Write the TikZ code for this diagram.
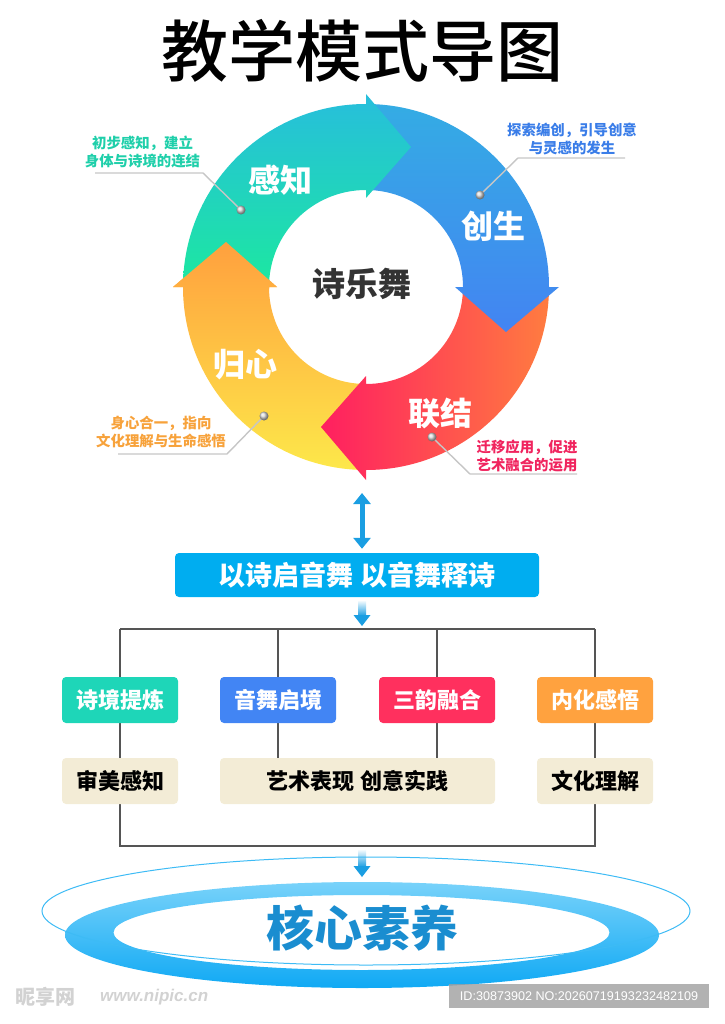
\documentclass[tikz,border=0pt]{standalone}
\usepackage{fontspec}
\setmainfont{Noto Sans CJK SC}
\newfontfamily\titlefont{Noto Sans CJK SC}[UprightFont=* Medium]
\newfontfamily\idfont{Liberation Sans}
\usetikzlibrary{arrows.meta,backgrounds}

\definecolor{cyantop}{HTML}{27BEDC}
\definecolor{cyanbot}{HTML}{1CE8A0}
\definecolor{bluetop}{HTML}{34ACE4}
\definecolor{bluebot}{HTML}{4384F2}
\definecolor{redleft}{HTML}{FF1F60}
\definecolor{redright}{HTML}{FF7C40}
\definecolor{orangetop}{HTML}{FFA03E}
\definecolor{orangebot}{HTML}{FDE84A}
\definecolor{darktext}{HTML}{333333}
\definecolor{arrowblue}{HTML}{1A9EE2}
\definecolor{mainblue}{HTML}{00ADF0}
\definecolor{boxteal}{HTML}{1ED6B8}
\definecolor{boxblue}{HTML}{4285F4}
\definecolor{boxred}{HTML}{FF305E}
\definecolor{boxorange}{HTML}{FFA23F}
\definecolor{beige}{HTML}{F3ECD6}
\definecolor{framegray}{HTML}{555555}
\definecolor{ringtop}{HTML}{78D2FA}
\definecolor{ringbot}{HTML}{10A9F4}
\definecolor{thinblue}{HTML}{3DBBF5}
\definecolor{coretext}{HTML}{1A8DD0}
\definecolor{txtteal}{HTML}{1FCFAA}
\definecolor{txtblue}{HTML}{3A7DE8}
\definecolor{txtorange}{HTML}{F7A23B}
\definecolor{txtred}{HTML}{F0245E}

\tikzset{
  ringlabel/.style={text=white, inner sep=0pt, font=\bfseries\fontsize{32pt}{32pt}\selectfont},
  callout/.style={align=center, inner sep=0pt, font=\bfseries\fontsize{14.4pt}{18pt}\selectfont},
  leader/.style={draw=gray!45, line width=1.4pt},
  dot/.style={circle, inner sep=0pt, minimum size=9pt, shade, ball color=gray!30},
  topbox/.style={rounded corners=4pt, minimum width=116pt, minimum height=46pt, inner sep=0pt,
    text=white, font=\bfseries\fontsize{22pt}{22pt}\selectfont},
  subbox/.style={rounded corners=4pt, fill=beige, minimum width=116pt, minimum height=46pt, inner sep=0pt,
    text=black, font=\bfseries\fontsize{22pt}{22pt}\selectfont},
  frame/.style={draw=framegray, line width=1.3pt},
}

\begin{document}
\begin{tikzpicture}[x=1pt,y=1pt]
\useasboundingbox (0,0) rectangle (724,-1024);

\node[inner sep=0pt, font=\titlefont\fontsize{67pt}{67pt}\selectfont] (title) at (362,-51) {教学模式导图};

% ring of four arrows
\begin{scope}[shift={(366,-287)}]
  \shade[top color=orangetop, bottom color=orangebot] (-90:97pt) -- (-90:183pt) arc[start angle=-90, end angle=-180, radius=183pt]
    -- (180:193pt) -- (-140pt,45pt) -- (180:89pt) -- (180:97pt) arc[start angle=180, end angle=270, radius=97pt] -- cycle;
  \shade[left color=redleft, right color=redright] (0:97pt) -- (0:183pt) arc[start angle=0, end angle=-90, radius=183pt]
    -- (-90:193pt) -- (-45pt,-140pt) -- (-90:89pt) -- (-90:97pt) arc[start angle=-90, end angle=0, radius=97pt] -- cycle;
  \shade[top color=bluetop, bottom color=bluebot] (90:97pt) -- (90:183pt) arc[start angle=90, end angle=0, radius=183pt]
    -- (0:193pt) -- (140pt,-45pt) -- (0:89pt) -- (0:97pt) arc[start angle=0, end angle=90, radius=97pt] -- cycle;
  \shade[top color=cyantop, bottom color=cyanbot] (180:97pt) -- (180:183pt) arc[start angle=180, end angle=90, radius=183pt]
    -- (90:193pt) -- (45pt,140pt) -- (90:89pt) -- (90:97pt) arc[start angle=90, end angle=180, radius=97pt] -- cycle;
  % orange head once more, over the cyan part
  \begin{scope}
    \clip (-200pt,-1pt) rectangle (-80pt,50pt);
    \shade[top color=orangetop, bottom color=orangebot] (-90:97pt) -- (-90:183pt) arc[start angle=-90, end angle=-180, radius=183pt]
      -- (180:193pt) -- (-140pt,45pt) -- (180:89pt) -- (180:97pt) arc[start angle=180, end angle=270, radius=97pt] -- cycle;
  \end{scope}
\end{scope}

\node[ringlabel] (ganzhi) at (280,-180) {感知};
\node[ringlabel] (chuangsheng) at (493,-226) {创生};
\node[ringlabel] (lianjie) at (440,-413) {联结};
\node[ringlabel] (guixin) at (245,-365) {归心};
\node[inner sep=0pt, text=darktext, font=\bfseries\fontsize{33pt}{33pt}\selectfont] (core) at (362,-284) {诗乐舞};

% callouts
\node[callout, text=txtteal] (c1) at (142.5,-152) {初步感知，建立\\身体与诗境的连结};
\node[callout, text=txtblue] (c2) at (572,-138.5) {探索编创，引导创意\\与灵感的发生};
\node[callout, text=txtorange] (c3) at (161,-432) {身心合一，指向\\文化理解与生命感悟};
\node[callout, text=txtred] (c4) at (527,-456) {迁移应用，促进\\艺术融合的运用};

\coordinate (k1) at (203,-173); \coordinate (e1) at (95,-173);
\coordinate (k2) at (518,-158); \coordinate (e2) at (625,-158);
\coordinate (k3) at (227,-454); \coordinate (e3) at (118,-454);
\coordinate (k4) at (470,-474); \coordinate (e4) at (577,-474);
\draw[leader] (e1) -- (k1) -- (241,-210) node[dot] (d1) {};
\draw[leader] (e2) -- (k2) -- (480,-195) node[dot] (d2) {};
\draw[leader] (e3) -- (k3) -- (264,-416) node[dot] (d3) {};
\draw[leader] (e4) -- (k4) -- (432,-437) node[dot] (d4) {};

% middle box and arrows
\node[fill=mainblue, rounded corners=4pt, minimum width=364pt, minimum height=44pt, inner sep=0pt,
  text=white, font=\bfseries\fontsize{27pt}{27pt}\selectfont] (mainbox) at (357,-575) {以诗启音舞 以音舞释诗};
\coordinate (ringbottom) at (362,-493);
\draw[arrowblue, line width=5pt, {Triangle[width=17pt,length=11pt]}-{Triangle[width=17pt,length=11pt]}, shorten >=4pt]
  (ringbottom) -- (ringbottom |- mainbox.north);

\shade[top color=white, bottom color=arrowblue] (358,-600) rectangle (366,-616);
\fill[arrowblue] (353.5,-615) -- (370.5,-615) -- (362,-626) -- cycle;

% tree
\node[topbox, fill=boxteal] (b1) at (120,-700) {诗境提炼};
\node[topbox, fill=boxblue] (b2) at (278,-700) {音舞启境};
\node[topbox, fill=boxred] (b3) at (437,-700) {三韵融合};
\node[topbox, fill=boxorange] (b4) at (595,-700) {内化感悟};
\node[subbox] (s1) at (120,-781) {审美感知};
\node[subbox, minimum width=275pt] (s2) at (357.5,-781) {艺术表现 创意实践};
\node[subbox] (s4) at (595,-781) {文化理解};

\coordinate (t1) at (120,-629); \coordinate (t2) at (278,-629);
\coordinate (t3) at (437,-629); \coordinate (t4) at (595,-629);
\coordinate (f1) at (120,-846); \coordinate (f4) at (595,-846);
\begin{scope}[on background layer]
  \draw[frame] (t1) -- (t4);
  \draw[frame] (t1) -- (b1.north); \draw[frame] (t2) -- (b2.north);
  \draw[frame] (t3) -- (b3.north); \draw[frame] (t4) -- (b4.north);
  \draw[frame] (b1.south) -- (s1.north);
  \draw[frame] (b2.south) -- (b2.south |- s2.north);
  \draw[frame] (b3.south) -- (b3.south |- s2.north);
  \draw[frame] (b4.south) -- (s4.north);
  \draw[frame] (s1.south) -- (f1) -- (f4) -- (s4.south);
\end{scope}

% core ring at the bottom
\shade[top color=white, bottom color=arrowblue] (358,-849) rectangle (366,-867);
\fill[arrowblue] (353.5,-866) -- (370.5,-866) -- (362,-877) -- cycle;
\shade[even odd rule, top color=ringtop, bottom color=ringbot]
  (362,-935) ellipse[x radius=297pt, y radius=53pt]
  (361.5,-932.5) ellipse[x radius=248pt, y radius=37.5pt];
\draw[thinblue, line width=1pt] (366,-911) ellipse[x radius=324pt, y radius=54pt];
\node[inner sep=0pt, text=coretext, font=\bfseries\fontsize{48pt}{48pt}\selectfont] (hexin) at (362,-928) {核心素养};

% watermark
\node[anchor=west, inner sep=0pt, text=gray!35, font=\bfseries\fontsize{20pt}{20pt}\selectfont] (wm) at (15,-997) {昵享网};
\node[anchor=west, inner sep=0pt, text=gray!35, font=\idfont\bfseries\itshape\fontsize{17pt}{17pt}\selectfont] (wmurl) at (100,-997) {www.nipic.cn};
\node[fill=gray!75, fill opacity=0.8, text opacity=1, text=white, minimum width=260pt, minimum height=24pt, inner sep=0pt,
  font=\idfont\fontsize{12.6pt}{12.6pt}\selectfont] (idbox) at (579,-996) {ID:30873902 NO:20260719193232482109};
\end{tikzpicture}
\end{document}
